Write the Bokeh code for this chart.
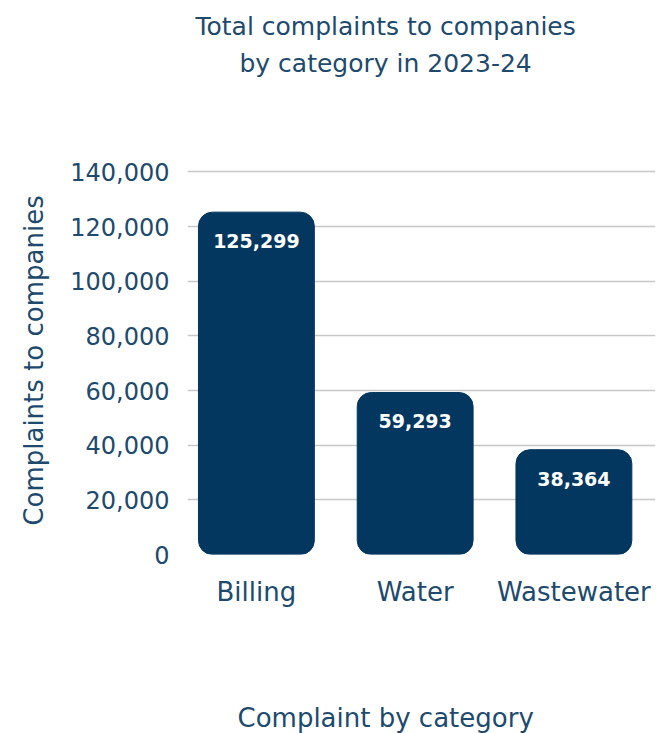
from bokeh.plotting import figure
from bokeh.models import ColumnDataSource, Range1d, FixedTicker, Title, NumeralTickFormatter
from bokeh.core.properties import value
from bokeh.embed import file_html
from bokeh.resources import INLINE

categories = ["Billing", "Water", "Wastewater"]
complaints = [125299, 59293, 38364]
labels = ["125,299", "59,293", "38,364"]
y_ticks = [0, 20000, 40000, 60000, 80000, 100000, 120000, 140000]

FONT = "DejaVu Sans"
TXT = "#1d4a6d"
BAR = "#03375f"

idx = list(range(len(categories)))
src = ColumnDataSource(dict(x=idx, val=complaints, lab=labels))

p = figure(width=656, height=733, output_backend="svg", toolbar_location=None,
           x_range=Range1d(-0.434, 2.514), y_range=Range1d(0, 142000),
           min_border_left=187, min_border_right=1, min_border_top=166, min_border_bottom=179)
p.title = None
p.outline_line_color = None
p.background_fill_color = "white"
p.border_fill_color = "white"

p.vbar(x="x", top="val", bottom=0, width=0.73, source=src, fill_color=BAR, line_color=BAR,
       border_radius=14)
p.text(x="x", y="val", text="lab", source=src, text_color="white", text_font=value(FONT),
       text_font_size="19px", text_font_style="bold", text_align="center",
       text_baseline="middle", y_offset=29)

p.yaxis.ticker = FixedTicker(ticks=y_ticks)
p.yaxis.formatter = NumeralTickFormatter(format="0,0")
p.yaxis.axis_line_color = None
p.yaxis.major_tick_line_color = None
p.yaxis.minor_tick_line_color = None
p.yaxis.major_tick_out = 0
p.yaxis.major_label_standoff = 18
p.yaxis.major_label_text_font = FONT
p.yaxis.major_label_text_font_size = "24px"
p.yaxis.major_label_text_color = TXT
p.yaxis.axis_label = "Complaints to companies"
p.yaxis.axis_label_text_font = FONT
p.yaxis.axis_label_text_font_size = "26px"
p.yaxis.axis_label_text_font_style = "normal"
p.yaxis.axis_label_text_color = TXT
p.yaxis.axis_label_standoff = 18

p.xaxis.ticker = FixedTicker(ticks=idx)
p.xaxis.major_label_overrides = {i: c for i, c in zip(idx, categories)}
p.xaxis.axis_line_color = None
p.xaxis.major_tick_line_color = None
p.xaxis.minor_tick_line_color = None
p.xaxis.major_label_standoff = 16
p.xaxis.major_label_text_font = FONT
p.xaxis.major_label_text_font_size = "26px"
p.xaxis.major_label_text_color = TXT

p.xgrid.grid_line_color = None
p.ygrid.ticker = FixedTicker(ticks=y_ticks)
p.ygrid.grid_line_color = "#c8c8c8"
p.ygrid.grid_line_width = 1.5

def mk_title(text, offset, standoff, size):
    return Title(text=text, align="left", offset=offset, standoff=standoff,
                 text_font=FONT, text_font_size=size, text_font_style="normal",
                 text_color=TXT)

def spacer(standoff):
    return Title(text=" ", standoff=standoff, text_font_size="1px", text_color="white")

# above: first added sits closest to the frame
p.add_layout(spacer(83), "above")
p.add_layout(mk_title("by category in 2023-24", 52, 6, "25px"), "above")
p.add_layout(mk_title("Total complaints to companies", 8, 6, "25px"), "above")
# below: stacked downward from the axis
p.add_layout(spacer(88), "below")
p.add_layout(mk_title("Complaint by category", 50, 0, "26px"), "below")

open("out.html", "w").write(file_html(p, INLINE))
